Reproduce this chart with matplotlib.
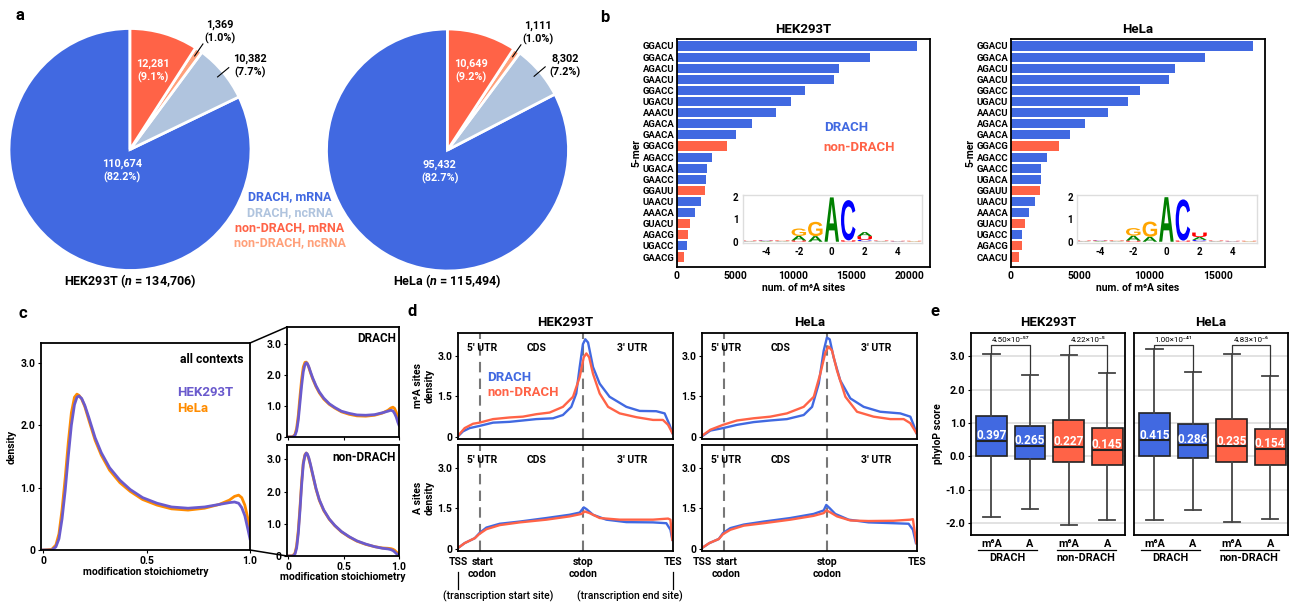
import re
import numpy as np
import matplotlib
matplotlib.use("Agg")
import matplotlib.pyplot as plt
import matplotlib.transforms as mtransforms
from matplotlib.patches import PathPatch, ConnectionPatch
from matplotlib.textpath import TextPath
from matplotlib.font_manager import FontProperties

plt.rcParams['font.family'] = ['Roboto', 'DejaVu Sans']
plt.rcParams['font.weight'] = 'bold'
plt.rcParams['axes.labelweight'] = 'bold'
plt.rcParams['axes.titleweight'] = 'bold'
plt.rcParams['axes.linewidth'] = 1.3
plt.rcParams['xtick.major.size'] = 2
plt.rcParams['ytick.major.size'] = 2
plt.rcParams['xtick.major.pad'] = 2
plt.rcParams['ytick.major.pad'] = 2
plt.rcParams['mathtext.fontset'] = 'custom'
plt.rcParams['mathtext.rm'] = 'Roboto:bold'
plt.rcParams['mathtext.it'] = 'Roboto:italic:bold'

BLUE = '#4169E1'
STEEL = '#B0C4DE'
RED = '#FF6347'
SALMON = '#FFA07A'
PURPLE = '#6A5ACD'
ORANGE = '#FF8C00'

# ---------------- data ----------------
# a: sites per group (DRACH mRNA, DRACH ncRNA, non-DRACH ncRNA, non-DRACH mRNA)
pie_groups = ['DRACH, mRNA', 'DRACH, ncRNA', 'non-DRACH, mRNA', 'non-DRACH, ncRNA']
hek_counts = [110674, 10382, 1369, 12281]
hek_pct = [82.2, 7.7, 1.0, 9.1]
hela_counts = [95432, 8302, 1111, 10649]
hela_pct = [82.7, 7.2, 1.0, 9.2]

# b: top 5-mers
hek_kmers = ['GGACU', 'GGACA', 'AGACU', 'GAACU', 'GGACC', 'UGACU', 'AAACU', 'AGACA',
             'GAACA', 'GGACG', 'AGACC', 'UGACA', 'GAACC', 'GGAUU', 'UAACU', 'AAACA',
             'GUACU', 'AGACG', 'UGACC', 'GAACG']
hek_sites = [20700, 16600, 14000, 13570, 11070, 9790, 8500, 6430, 5070, 4290,
             3000, 2570, 2460, 2390, 2040, 1540, 1110, 930, 820, 570]
hela_kmers = ['GGACU', 'GGACA', 'AGACU', 'GAACU', 'GGACC', 'UGACU', 'AAACU', 'AGACA',
              'GAACA', 'GGACG', 'AGACC', 'GAACC', 'UGACA', 'GGAUU', 'UAACU', 'AAACA',
              'GUACU', 'UGACC', 'AGACG', 'CAACU']
hela_sites = [17540, 14060, 11920, 11500, 9390, 8510, 7060, 5370, 4290, 3500,
              2630, 2170, 2170, 2110, 1750, 1300, 1030, 815, 785, 570]

# b insets: sequence logo heights (bits) at positions -5..5
logo_pos = [-5, -4, -3, -2, -1, 0, 1, 2, 3, 4, 5]
hek_logo_A = [0.01, 0.02, 0.01, 0.20, 0.25, 1.98, 0.00, 0.18, 0.01, 0.01, 0.01]
hek_logo_C = [0.01, 0.02, 0.01, 0.00, 0.00, 0.00, 1.80, 0.07, 0.01, 0.01, 0.00]
hek_logo_G = [0.01, 0.01, 0.02, 0.33, 0.64, 0.00, 0.00, 0.02, 0.01, 0.00, 0.01]
hek_logo_U = [0.02, 0.02, 0.02, 0.06, 0.00, 0.00, 0.06, 0.16, 0.02, 0.02, 0.02]
hela_logo_A = [0.01, 0.02, 0.01, 0.22, 0.22, 1.99, 0.00, 0.13, 0.01, 0.01, 0.01]
hela_logo_C = [0.01, 0.02, 0.01, 0.00, 0.00, 0.00, 1.84, 0.06, 0.01, 0.01, 0.00]
hela_logo_G = [0.01, 0.01, 0.02, 0.34, 0.68, 0.00, 0.00, 0.02, 0.01, 0.00, 0.01]
hela_logo_U = [0.02, 0.02, 0.02, 0.05, 0.00, 0.00, 0.05, 0.20, 0.02, 0.02, 0.02]

# c: stoichiometry densities
stoich_x = [0.0, 0.04, 0.06, 0.075, 0.09, 0.105, 0.12, 0.135, 0.15, 0.162, 0.172, 0.185,
            0.2, 0.22, 0.25, 0.28, 0.32, 0.37, 0.42, 0.48, 0.55, 0.62, 0.7, 0.78, 0.85,
            0.9, 0.925, 0.945, 0.96, 0.975, 0.99, 1.0]
all_hek = [0, 0.0, 0.05, 0.18, 0.5, 0.95, 1.5, 2.0, 2.33, 2.45, 2.47, 2.43, 2.32, 2.12,
           1.8, 1.56, 1.32, 1.12, 0.97, 0.84, 0.75, 0.69, 0.67, 0.69, 0.73, 0.76, 0.77,
           0.75, 0.68, 0.55, 0.33, 0.18]
all_hela = [0, 0.01, 0.08, 0.26, 0.65, 1.15, 1.72, 2.2, 2.45, 2.5, 2.48, 2.42, 2.3, 2.08,
            1.76, 1.52, 1.28, 1.08, 0.94, 0.81, 0.72, 0.66, 0.64, 0.67, 0.73, 0.8, 0.86,
            0.88, 0.84, 0.72, 0.5, 0.33]
drach_hek = [0, 0.0, 0.05, 0.2, 0.55, 1.1, 1.65, 2.1, 2.33, 2.39, 2.36, 2.26, 2.1, 1.9,
             1.65, 1.45, 1.25, 1.07, 0.95, 0.83, 0.76, 0.71, 0.7, 0.72, 0.78, 0.83, 0.86,
             0.84, 0.76, 0.64, 0.47, 0.38]
drach_hela = [0, 0.01, 0.08, 0.28, 0.7, 1.3, 1.85, 2.25, 2.4, 2.41, 2.36, 2.24, 2.07, 1.87,
              1.62, 1.42, 1.22, 1.05, 0.93, 0.81, 0.73, 0.68, 0.67, 0.7, 0.77, 0.86, 0.93,
              0.96, 0.92, 0.8, 0.6, 0.45]
ndrach_hek = [0, 0.0, 0.06, 0.25, 0.7, 1.4, 2.2, 2.85, 3.12, 3.2, 3.17, 3.05, 2.85, 2.55,
              2.1, 1.75, 1.43, 1.15, 0.95, 0.76, 0.6, 0.47, 0.37, 0.29, 0.24, 0.22, 0.2,
              0.17, 0.13, 0.08, 0.04, 0.03]
ndrach_hela = [0, 0.01, 0.09, 0.32, 0.8, 1.5, 2.3, 2.9, 3.15, 3.2, 3.15, 3.02, 2.82, 2.52,
               2.08, 1.73, 1.41, 1.14, 0.94, 0.75, 0.59, 0.46, 0.36, 0.29, 0.25, 0.24,
               0.23, 0.21, 0.18, 0.13, 0.08, 0.05]

# d: metagene densities (0 = TSS, 1 = TES)
d_marks = [0.0, 0.1, 0.58, 1.0]
d_mark_labels = ['TSS', 'start\ncodon', 'stop\ncodon', 'TES']
d_regions = ["5' UTR", 'CDS', "3' UTR"]
d_region_x = [0.11, 0.365, 0.81]

hek_m6a_drach_x = [0, 0.023, 0.054, 0.1, 0.163, 0.24, 0.302, 0.364, 0.442, 0.488, 0.527,
                   0.55, 0.566, 0.581, 0.592, 0.605, 0.628, 0.659, 0.705, 0.783, 0.845,
                   0.922, 0.961, 0.984, 0.997]
hek_m6a_drach = [0.04, 0.22, 0.34, 0.42, 0.54, 0.57, 0.62, 0.67, 0.70, 0.82, 1.12, 1.61,
                 2.58, 3.42, 3.6, 3.48, 2.58, 1.97, 1.49, 1.12, 0.97, 0.96, 0.88, 0.46, 0.16]
hek_m6a_non_x = [0, 0.031, 0.07, 0.1, 0.163, 0.24, 0.302, 0.364, 0.426, 0.488, 0.535,
                 0.566, 0.585, 0.597, 0.61, 0.628, 0.659, 0.698, 0.752, 0.83, 0.907, 0.953,
                 0.977, 0.997]
hek_m6a_non = [0.06, 0.34, 0.5, 0.54, 0.67, 0.73, 0.76, 0.85, 0.91, 1.12, 1.49, 2.21, 2.94,
               3.08, 2.94, 2.33, 1.61, 1.12, 0.88, 0.74, 0.64, 0.64, 0.46, 0.16]
hela_m6a_drach_x = [0, 0.039, 0.098, 0.163, 0.24, 0.318, 0.395, 0.473, 0.512, 0.543, 0.566,
                    0.581, 0.594, 0.612, 0.643, 0.69, 0.752, 0.829, 0.922, 0.969, 0.984,
                    0.997]
hela_m6a_drach = [0.04, 0.25, 0.34, 0.46, 0.56, 0.62, 0.67, 0.82, 1.12, 1.97, 3.18, 3.66,
                  3.6, 2.94, 2.09, 1.43, 1.12, 0.94, 0.88, 0.76, 0.46, 0.16]
hela_m6a_non_x = [0, 0.039, 0.098, 0.163, 0.24, 0.318, 0.395, 0.473, 0.52, 0.55, 0.574,
                  0.589, 0.605, 0.628, 0.667, 0.721, 0.798, 0.876, 0.938, 0.969, 0.997]
hela_m6a_non = [0.06, 0.28, 0.46, 0.62, 0.70, 0.76, 0.88, 1.12, 1.49, 2.33, 3.12, 3.33,
                3.18, 2.45, 1.49, 0.94, 0.76, 0.67, 0.67, 0.52, 0.16]

hek_a_drach_x = [0, 0.031, 0.078, 0.1, 0.132, 0.194, 0.287, 0.411, 0.519, 0.566, 0.585,
                 0.597, 0.628, 0.69, 0.783, 0.907, 0.969, 0.988, 0.997]
hek_a_drach = [0.05, 0.23, 0.41, 0.6, 0.8, 0.94, 1.02, 1.15, 1.27, 1.35, 1.54, 1.48, 1.27,
               1.09, 1.0, 0.99, 0.96, 0.72, 0.35]
hek_a_non_x = [0, 0.031, 0.078, 0.1, 0.132, 0.194, 0.287, 0.411, 0.519, 0.574, 0.59,
               0.612, 0.659, 0.752, 0.907, 0.977, 0.988, 0.997]
hek_a_non = [0.05, 0.23, 0.41, 0.57, 0.74, 0.89, 0.99, 1.09, 1.21, 1.30, 1.39, 1.33, 1.15,
             1.09, 1.09, 1.13, 1.09, 0.35]
hela_a_drach_x = [0, 0.034, 0.078, 0.098, 0.132, 0.194, 0.287, 0.411, 0.519, 0.566, 0.578,
                  0.594, 0.62, 0.682, 0.775, 0.891, 0.961, 0.981, 0.995]
hela_a_drach = [0.05, 0.23, 0.38, 0.6, 0.78, 0.91, 1.02, 1.15, 1.3, 1.43, 1.63, 1.51, 1.3,
                1.09, 0.99, 0.96, 0.94, 0.72, 0.23]
hela_a_non_x = [0, 0.034, 0.078, 0.098, 0.132, 0.194, 0.287, 0.411, 0.519, 0.566, 0.578,
                0.594, 0.628, 0.69, 0.775, 0.891, 0.969, 0.981, 0.988, 0.997]
hela_a_non = [0.05, 0.23, 0.38, 0.56, 0.72, 0.87, 0.96, 1.09, 1.23, 1.33, 1.43, 1.37, 1.21,
              1.06, 1.04, 1.05, 1.09, 1.11, 0.72, 0.23]

# e: phyloP box statistics (m6A DRACH, A DRACH, m6A non-DRACH, A non-DRACH)
e_labels = ['m⁶A', 'A', 'm⁶A', 'A']
hek_whislo = [-1.80, -1.56, -2.06, -1.91]
hek_q1 = [0.00, -0.08, -0.18, -0.27]
hek_med = [0.45, 0.32, 0.28, 0.20]
hek_q3 = [1.22, 0.92, 1.10, 0.84]
hek_whishi = [3.05, 2.43, 3.03, 2.48]
hek_mean = [0.397, 0.265, 0.227, 0.145]
hek_pvals = ['4.50×10⁻⁵⁷', '4.22×10⁻⁵']
hela_whislo = [-1.90, -1.60, -1.95, -1.86]
hela_q1 = [0.00, -0.05, -0.18, -0.26]
hela_med = [0.48, 0.34, 0.30, 0.22]
hela_q3 = [1.29, 0.96, 1.13, 0.82]
hela_whishi = [3.20, 2.51, 3.06, 2.39]
hela_mean = [0.415, 0.286, 0.235, 0.154]
hela_pvals = ['1.00×10⁻⁴¹', '4.83×10⁻⁶']

# ---------------- figure ----------------
W, H = 1290, 605
fig = plt.figure(figsize=(W / 100, H / 100), dpi=100)


def px_axes(l, t, r, b):
    return fig.add_axes([l / W, 1 - b / H, (r - l) / W, (b - t) / H])


def fig_text(x, y, s, **kw):
    fig.text(x / W, 1 - y / H, s, **kw)


for lab, x, y in [('a', 20, 15), ('b', 605, 18), ('c', 23, 313), ('d', 412, 312), ('e', 935, 312)]:
    fig_text(x, y, lab, fontsize=12, ha='center', va='center')

# ---- a: pies ----
pie_colors = [BLUE, STEEL, SALMON, RED]
for box, counts, pcts, cell in [((5, 24.5, 255, 274.5), hek_counts, hek_pct, 'HEK293T'),
                                ((322.5, 25, 572.5, 275), hela_counts, hela_pct, 'HeLa')]:
    ax = px_axes(*box)
    wedges, _ = ax.pie(counts, colors=pie_colors, startangle=90, counterclock=True,
                       wedgeprops=dict(edgecolor='white', linewidth=2))
    ax.set_xlim(-1.033, 1.033)
    ax.set_ylim(-1.033, 1.033)
    for i, (w, n, p) in enumerate(zip(wedges, counts, pcts)):
        ang = np.deg2rad((w.theta1 + w.theta2) / 2)
        label = f'{n:,}\n({p:.1f}%)'
        if i == 0:
            ax.text(0.19 * np.cos(np.deg2rad(250)), 0.19 * np.sin(np.deg2rad(250)), label,
                    color='white', ha='center', va='center', fontsize=7.8, linespacing=1.3)
        elif i == 3:
            ax.text(0.68 * np.cos(ang), 0.68 * np.sin(ang), label, color='white',
                    ha='center', va='center', fontsize=7.8, linespacing=1.3)
        else:
            ax.plot([0.94 * np.cos(ang), 1.06 * np.cos(ang)],
                    [0.94 * np.sin(ang), 1.06 * np.sin(ang)], color='black', lw=0.8)
            va, off = ('center', (3, 1)) if i == 1 else ('bottom', (1, 0))
            ax.annotate(label, xy=(1.06 * np.cos(ang), 1.06 * np.sin(ang)), xytext=off,
                        textcoords='offset points', ha='left', va=va,
                        multialignment='center', fontsize=7.8, linespacing=1.3)
    ax.text(0, -1.085, f'{cell} ($n$ = {sum(counts):,})', ha='center', va='center',
            fontsize=9)

for k, (g, c) in enumerate(zip(pie_groups, [BLUE, STEEL, RED, SALMON])):
    fig_text(290, 197 + k * 15.3, g, color=c, fontsize=9, ha='center', va='center')

# ---- b: 5-mer bars with logo insets ----
LOGO_FP = FontProperties(family='Liberation Sans', weight='bold')
LOGO_COLORS = {'A': '#008000', 'C': '#0000FF', 'G': '#FFA500', 'U': '#FF0000'}


def draw_letter(ax, ch, x, y, w, h, color):
    tp = TextPath((0, 0), ch, size=1, prop=LOGO_FP)
    bb = tp.get_extents()
    t = (mtransforms.Affine2D().translate(-bb.x0, -bb.y0)
         .scale(w / bb.width, h / bb.height).translate(x - w / 2, y))
    ax.add_patch(PathPatch(t.transform_path(tp), fc=color, ec='none'))


def draw_logo(ax, heights):
    for k, x in enumerate(logo_pos):
        y = 0
        for h, nt in sorted((heights[nt][k], nt) for nt in 'ACGU'):
            if h > 0:
                draw_letter(ax, nt, x, y, 0.88, h, LOGO_COLORS[nt])
            y += h


for box, kmers, sites, logo_h, title, xmax, ticks, ylx in [
        ((677, 39, 930, 267), hek_kmers, hek_sites,
         dict(A=hek_logo_A, C=hek_logo_C, G=hek_logo_G, U=hek_logo_U),
         'HEK293T', 21800, [0, 5000, 10000, 15000, 20000], 636),
        ((1011, 39, 1265, 267), hela_kmers, hela_sites,
         dict(A=hela_logo_A, C=hela_logo_C, G=hela_logo_G, U=hela_logo_U),
         'HeLa', 18440, [0, 5000, 10000, 15000], 970)]:
    ax = px_axes(*box)
    colors = [BLUE if re.fullmatch('[AGU][AG]AC[ACU]', k) else RED for k in kmers]
    ax.barh(range(len(kmers)), sites, height=0.82, color=colors)
    ax.set_yticks(range(len(kmers)), kmers, fontsize=6.8)
    ax.set_ylim(len(kmers) - 0.1, -0.63)
    ax.set_xlim(0, xmax)
    ax.set_xticks(ticks, [str(t) for t in ticks], fontsize=7.5)
    ax.tick_params(axis='y', length=0, pad=2)
    ax.tick_params(axis='x', length=0, pad=3)
    ax.set_title(title, fontsize=9.5, pad=4)
    ax.set_xlabel('num. of m⁶A sites', fontsize=7.5, labelpad=1)
    fig_text(ylx, 153, '5-mer', rotation=90, fontsize=7.5, ha='center', va='center')
    if title == 'HEK293T':
        ax.text(0.58, 0.61, 'DRACH', color=BLUE, transform=ax.transAxes, fontsize=9.5,
                va='center')
        ax.text(0.58, 0.525, 'non-DRACH', color=RED, transform=ax.transAxes, fontsize=9.5,
                va='center')
    ins = ax.inset_axes([0.26, 0.105, 0.71, 0.21])
    draw_logo(ins, logo_h)
    ins.set_xlim(-5.4, 5.5)
    ins.set_ylim(-0.06, 2.08)
    ins.set_xticks([-4, -2, 0, 2, 4], ['-4', '-2', '0', '2', '4'], fontsize=7)
    ins.set_yticks([0, 1, 2], ['0', '1', '2'], fontsize=7)
    ins.tick_params(length=0, pad=3)
    for s in ins.spines.values():
        s.set_color('#dddddd')
        s.set_linewidth(1)

# ---- c: stoichiometry ----
ax_all = px_axes(41, 343, 250, 550)
ax_dr = px_axes(287, 327, 399, 437)
ax_nd = px_axes(287, 445, 399, 556)
for ax, yh, yl, ytop, tag in [(ax_all, all_hek, all_hela, 3.32, 'all contexts'),
                              (ax_dr, drach_hek, drach_hela, 3.54, 'DRACH'),
                              (ax_nd, ndrach_hek, ndrach_hela, 3.45, 'non-DRACH')]:
    ax.plot(stoich_x, yl, color=ORANGE, lw=2)
    ax.plot(stoich_x, yh, color=PURPLE, lw=2)
    ax.set_xlim(-0.012, 1.0)
    ax.set_ylim(0, ytop)
    ax.set_yticks([0, 1, 2, 3], ['0', '1.0', '2.0', '3.0'], fontsize=7.5)
    ax.set_xticks([0, 0.5, 1.0], ['0', '0.5', '1.0'], fontsize=7.5)
    ax.text(0.97, 0.95, tag, transform=ax.transAxes, ha='right', va='top',
            fontsize=8.8 if ax is ax_all else 8.5)
ax_dr.set_xticklabels([])
ax_all.set_ylabel('density', fontsize=7.5, labelpad=3)
ax_all.set_xlabel('modification stoichiometry', fontsize=7.5, labelpad=1)
ax_nd.set_xlabel('modification stoichiometry', fontsize=7.5, labelpad=0)
ax_all.text(0.65, 0.76, 'HEK293T', color=PURPLE, transform=ax_all.transAxes, fontsize=9.5,
            va='center')
ax_all.text(0.65, 0.685, 'HeLa', color=ORANGE, transform=ax_all.transAxes, fontsize=9.5,
            va='center')
for a_xy, b_ax, b_xy in [((1, 1), ax_dr, (0, 1)), ((1, 0), ax_nd, (0, 0))]:
    fig.add_artist(ConnectionPatch(xyA=a_xy, coordsA=ax_all.transAxes, xyB=b_xy,
                                   coordsB=b_ax.transAxes, color='black', lw=1.1))

# ---- d: metagene ----
d_panels = [
    ((458, 333, 673, 439), hek_m6a_drach_x, hek_m6a_drach, hek_m6a_non_x, hek_m6a_non, 'HEK293T', 'm⁶A sites\ndensity'),
    ((458, 445, 673, 551), hek_a_drach_x, hek_a_drach, hek_a_non_x, hek_a_non, None, 'A sites\ndensity'),
    ((702, 333, 917, 439), hela_m6a_drach_x, hela_m6a_drach, hela_m6a_non_x, hela_m6a_non, 'HeLa', None),
    ((702, 445, 917, 551), hela_a_drach_x, hela_a_drach, hela_a_non_x, hela_a_non, None, None),
]
for box, xd, yd, xn, yn, title, ylab in d_panels:
    ax = px_axes(*box)
    for m in d_marks[1:3]:
        ax.axvline(m, color='#777777', ls=(0, (5, 3)), lw=1.5)
    ax.plot(xd, yd, color=BLUE, lw=1.7)
    ax.plot(xn, yn, color=RED, lw=1.7)
    ax.set_xlim(0, 1)
    ax.set_ylim(-0.06, 3.83)
    ax.set_yticks([0, 1.5, 3.0], ['0', '1.5', '3.0'], fontsize=7.5)
    ax.set_xticks([])
    for rx, rl in zip(d_region_x, d_regions):
        ax.text(rx, 3.27, rl, ha='center', va='center', fontsize=7.5)
    if title:
        ax.set_title(title, fontsize=9.5, pad=5)
    else:
        tr = mtransforms.blended_transform_factory(ax.transData, ax.transAxes)
        for k, (m, ml) in enumerate(zip(d_marks, d_mark_labels)):
            t = mtransforms.offset_copy(tr, fig=fig, x=3 if k == 1 else 0, units='dots')
            ax.text(m, -0.06, ml, transform=t, ha='center', va='top', fontsize=7.5,
                    linespacing=1.2)
        if box[0] == 458:
            for m in (d_marks[0], d_marks[3]):
                ax.plot([m, m], [-0.2, -0.36], color='black', lw=0.9, transform=tr,
                        clip_on=False)
            ax.text(0.186, -0.425, '(transcription start site)', transform=tr,
                    ha='center', va='center', fontsize=7.5, weight='medium')
            ax.text(0.80, -0.425, '(transcription end site)', transform=tr,
                    ha='center', va='center', fontsize=7.5, weight='medium')
    if ylab:
        ax.set_ylabel(ylab, fontsize=7.5, labelpad=2, linespacing=1.25)
    if box == (458, 333, 673, 439):
        ax.text(0.136, 2.21, 'DRACH', color=BLUE, fontsize=9.5, va='center')
        ax.text(0.136, 1.63, 'non-DRACH', color=RED, fontsize=9.5, va='center')

# ---- e: phyloP ----
e_colors = [BLUE, BLUE, RED, RED]
for box, lo, q1, med, q3, hi, means, pvals, title in [
        ((971, 333, 1125, 535), hek_whislo, hek_q1, hek_med, hek_q3, hek_whishi, hek_mean, hek_pvals, 'HEK293T'),
        ((1134, 333, 1288, 535), hela_whislo, hela_q1, hela_med, hela_q3, hela_whishi, hela_mean, hela_pvals, 'HeLa')]:
    ax = px_axes(*box)
    stats = [dict(whislo=a, q1=b, med=c, q3=d, whishi=e) for a, b, c, d, e in zip(lo, q1, med, q3, hi)]
    bp = ax.bxp(stats, positions=range(4), widths=0.8, patch_artist=True, showfliers=False,
                capwidths=0.42,
                boxprops=dict(edgecolor='#222222', linewidth=1.2),
                medianprops=dict(color='#222222', linewidth=1.5),
                whiskerprops=dict(color='#444444', linewidth=1.3),
                capprops=dict(color='#444444', linewidth=1.3))
    for patch, c in zip(bp['boxes'], e_colors):
        patch.set_facecolor(c)
    for k, m in enumerate(means):
        ax.text(k, m + 0.22, f'{m:.3f}', color='white', ha='center', va='center', fontsize=8.5)
    for (i, j), p in zip([(0, 1), (2, 3)], pvals):
        ax.plot([i, i, j, j], [hi[i] + 0.05, 3.34, 3.34, hi[j] + 0.05], color='#333333', lw=0.9)
        ax.text((i + j) / 2, 3.48, p, ha='center', va='center', fontsize=5.8, weight='normal')
    ax.set_xlim(-0.53, 3.46)
    ax.set_ylim(-2.35, 3.69)
    ax.set_yticks([-2, -1, 0, 1, 2, 3])
    ax.yaxis.grid(True, color='#dddddd', lw=1.2)
    ax.set_axisbelow(True)
    ax.set_xticks(range(4), e_labels, fontsize=7.8)
    ax.tick_params(axis='x', length=0, pad=3)
    ax.set_title(title, fontsize=9.5, pad=5)
    if title == 'HEK293T':
        ax.set_yticklabels(['-2.0', '-1.0', '0.0', '1.0', '2.0', '3.0'], fontsize=7.8)
        ax.set_ylabel('phyloP score', fontsize=7.5, labelpad=2)
    else:
        ax.set_yticklabels([])
        ax.tick_params(axis='y', length=0)
    tr = mtransforms.blended_transform_factory(ax.transData, ax.transAxes)
    for x0, x1, g in [(-0.34, 1.17, 'DRACH'), (1.69, 3.22, 'non-DRACH')]:
        ax.plot([x0, x1], [-0.074, -0.074], color='black', lw=0.9, transform=tr, clip_on=False)
        ax.text((x0 + x1) / 2, -0.112, g, transform=tr, ha='center', va='center', fontsize=7.8)

fig.savefig('out.png', dpi=100)
